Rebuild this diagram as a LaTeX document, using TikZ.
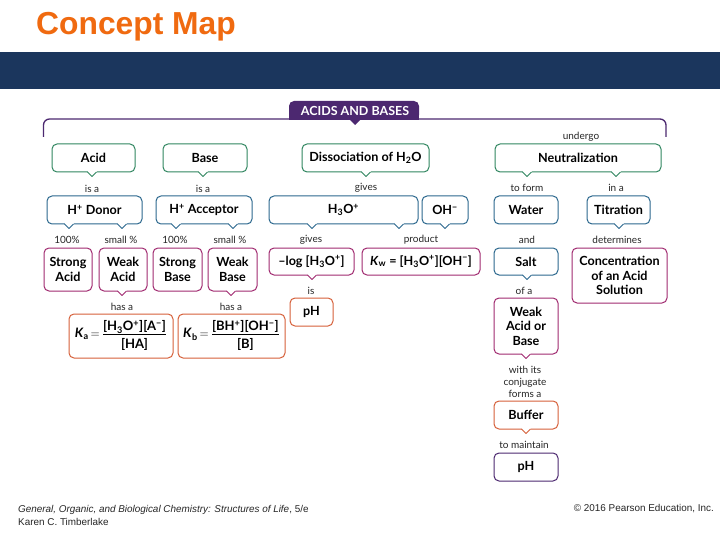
\documentclass[tikz,border=0pt]{standalone}
\usepackage{fontspec}
\setmainfont{Lato}
\newfontfamily\arialfont{Liberation Sans}
\usetikzlibrary{positioning}
\definecolor{navybar}{RGB}{27,54,93}
\definecolor{titleor}{RGB}{240,106,16}
\definecolor{headpur}{RGB}{76,40,112}
\definecolor{boxgreen}{RGB}{48,134,96}
\definecolor{boxblue}{RGB}{44,104,142}
\definecolor{boxmag}{RGB}{160,42,112}
\definecolor{boxor}{RGB}{214,96,58}
\tikzset{
  bubble/.style={draw, fill=white, rounded corners=5pt, line width=1pt, inner sep=0pt, outer sep=0pt,
    align=center, text=black, font=\fontsize{12.6}{14.5}\selectfont\bfseries},
  lbl/.style={inner sep=0pt, align=center, text=black!85, font=\fontsize{10}{12}\selectfont},
  foot/.style={inner sep=0pt, anchor=west, align=left, text=black!85, font=\arialfont\fontsize{9.9}{13}\selectfont},
}
% small v under a box, #3 = shift from the box centre
\newcommand{\tipat}[3]{
  \draw[white, line width=1.6pt] ([xshift=#3pt-4.5pt]#2.south) -- ++(9,0);
  \draw[#1, line width=1pt, line join=round] ([xshift=#3pt-4.5pt]#2.south) -- ++(4.5,4.5) -- ++(4.5,-4.5);
}
\newcommand{\kfrac}[3]{\fontsize{13}{15}\selectfont\textbf{\textit{K}\textsubscript{#1}}$\,{=}\,\frac{\hbox{\bfseries\rule[-3pt]{0pt}{12pt}#2}}{\hbox{\bfseries\rule[-3pt]{0pt}{16pt}#3}}$}
\begin{document}
\begin{tikzpicture}[x=1pt,y=-1pt]
  \path[use as bounding box, fill=white] (0,0) rectangle (720,540);
  \node[inner sep=0pt, anchor=base west, text=titleor, font=\arialfont\fontsize{31.8}{36}\selectfont\bfseries] (title) at (36,35) {Concept Map};
  \fill[navybar] (0,52) rectangle (720,89);

  % top bracket
  \coordinate (brleft) at (43.5,137);
  \coordinate (brright) at (666,137);
  \draw[headpur, line width=1.3pt, rounded corners=6pt] (brleft) -- (43.5,119) -- (666,119) -- (brright);
  \fill[headpur, rounded corners=5pt] (289,120) -- (289,101) -- (419,101) -- (419,120) -- cycle;
  \fill[headpur] (289,114) rectangle (419,120);
  \fill[headpur] (349,119) -- (355,125) -- (361,119) -- cycle;
  \node[inner sep=0pt, text=white, font=\fontsize{12.5}{14}\selectfont\bfseries] (acidsbases) at (355,110.5) {ACIDS AND BASES};

  % first row
  \node[bubble, draw=boxgreen, minimum width=83pt, minimum height=28pt] (acid) at (93.5,158) {Acid};
  \node[bubble, draw=boxgreen, minimum width=84pt, minimum height=28pt] (base) at (205,158) {Base};
  \node[bubble, draw=boxgreen, minimum width=127pt, minimum height=28pt] (dissoc) at (365.5,158) {Dissociation of H\textsubscript{2}O};
  \node[bubble, draw=boxgreen, minimum width=166pt, minimum height=28pt] (neutral) at (578,158) {Neutralization};
  \tipat{boxgreen}{acid}{-1.5}
  \tipat{boxgreen}{base}{-2}
  \tipat{boxgreen}{dissoc}{0.5}
  \tipat{boxgreen}{neutral}{-51}
  \tipat{boxgreen}{neutral}{38}

  % second row
  \node[bubble, draw=boxblue, minimum width=95pt, minimum height=28pt] (donor) at (94.5,210) {H\textsuperscript{+} Donor};
  \node[bubble, draw=boxblue, minimum width=96pt, minimum height=28pt] (acceptor) at (204,210) {H\textsuperscript{+} Acceptor};
  \node[bubble, draw=boxblue, minimum width=149pt, minimum height=28pt] (hydronium) at (343.5,210) {H\textsubscript{3}O\textsuperscript{+}};
  \node[bubble, draw=boxblue, minimum width=46pt, minimum height=28pt] (hydroxide) at (445,210) {OH\textsuperscript{−}};
  \node[bubble, draw=boxblue, minimum width=64pt, minimum height=28pt] (water) at (526,210) {Water};
  \node[bubble, draw=boxblue, minimum width=63pt, minimum height=28pt] (titration) at (618.5,210) {Titration};
  \tipat{boxblue}{donor}{-25.5}
  \tipat{boxblue}{donor}{27.5}
  \tipat{boxblue}{acceptor}{-28}
  \tipat{boxblue}{acceptor}{29}
  \tipat{boxblue}{hydronium}{-31.5}
  \tipat{boxblue}{hydronium}{55.5}
  \tipat{boxblue}{hydroxide}{0}
  \tipat{boxblue}{titration}{0.5}

  % third row
  \node[bubble, draw=boxmag, minimum width=48pt, minimum height=43pt] (strongacid) at (68,269.5) {Strong\\Acid};
  \node[bubble, draw=boxmag, minimum width=48pt, minimum height=43pt] (weakacid) at (123,269.5) {Weak\\Acid};
  \node[bubble, draw=boxmag, minimum width=49pt, minimum height=43pt] (strongbase) at (177.5,269.5) {Strong\\Base};
  \node[bubble, draw=boxmag, minimum width=49pt, minimum height=43pt] (weakbase) at (232.5,269.5) {Weak\\Base};
  \node[bubble, draw=boxmag, minimum width=85pt, minimum height=27pt] (minuslog) at (311.5,261.5) {–log [H\textsubscript{3}O\textsuperscript{+}]};
  \node[bubble, draw=boxmag, minimum width=118pt, minimum height=27pt] (kw) at (421,261.5) {\textit{K}\textsubscript{w} = [H\textsubscript{3}O\textsuperscript{+}][OH\textsuperscript{−}]};
  \node[bubble, draw=boxblue, minimum width=64pt, minimum height=27pt] (salt) at (526,261.5) {Salt};
  \node[bubble, draw=boxmag, minimum width=95pt, minimum height=55pt] (concentr) at (619.5,275.5) {Concentration\\of an Acid\\Solution};
  \tipat{boxmag}{weakacid}{-1}
  \tipat{boxmag}{weakbase}{-1.5}
  \tipat{boxmag}{minuslog}{0.5}
  \tipat{boxblue}{salt}{1}

  % constants and pH
  \node[bubble, draw=boxor, minimum width=104pt, minimum height=44pt] (ka) at (121,336) {\kfrac{a}{[H\textsubscript{3}O\textsuperscript{+}][A\textsuperscript{−}]}{[HA]}};
  \node[bubble, draw=boxor, minimum width=107pt, minimum height=44pt] (kb) at (231.5,336) {\kfrac{b}{[BH\textsuperscript{+}][OH\textsuperscript{−}]}{[B]}};
  \node[bubble, draw=boxor, minimum width=43pt, minimum height=28pt] (phleft) at (311.5,312) {pH};

  % right column
  \node[bubble, draw=boxmag, minimum width=64pt, minimum height=56pt] (weakacidbase) at (526,326) {Weak\\Acid or\\Base};
  \node[bubble, draw=boxor, minimum width=64pt, minimum height=28pt] (buffer) at (526,415) {Buffer};
  \node[bubble, draw=headpur, minimum width=64pt, minimum height=28pt] (phright) at (526,467) {pH};
  \tipat{boxmag}{weakacidbase}{0}
  \tipat{boxor}{buffer}{0}

  % link words
  \node[lbl] (undergo) at (581,137) {undergo};
  \node[lbl] (isa1) at (92,189) {is a};
  \node[lbl] (isa2) at (203,189) {is a};
  \node[lbl] (gives1) at (366,188) {gives};
  \node[lbl] (toform) at (527,188) {to form};
  \node[lbl] (ina) at (616,188) {in a};
  \node[lbl] (pct1) at (67,240) {100\%};
  \node[lbl] (small1) at (121,240) {small \%};
  \node[lbl] (pct2) at (175,240) {100\%};
  \node[lbl] (small2) at (230,240) {small \%};
  \node[lbl] (gives2) at (311,240) {gives};
  \node[lbl] (product) at (421,239.5) {product};
  \node[lbl] (and) at (527,239.5) {and};
  \node[lbl] (determines) at (617,239.5) {determines};
  \node[lbl] (hasa1) at (122,307) {has a};
  \node[lbl] (hasa2) at (231,307) {has a};
  \node[lbl] (is) at (311,291) {is};
  \node[lbl] (ofa) at (524,291) {of a};
  \node[lbl] (withits) at (525,381.5) {with its\\conjugate\\forms a};
  \node[lbl] (tomaintain) at (524,445) {to maintain};

  % footer
  \node[foot] (book) at (18,515.5) {\textit{General, Organic, and Biological Chemistry: Structures of Life}, 5/e\\Karen C. Timberlake};
  \node[foot, anchor=east] (copyr) at (714,508.5) {© 2016 Pearson Education, Inc.};
\end{tikzpicture}
\end{document}
